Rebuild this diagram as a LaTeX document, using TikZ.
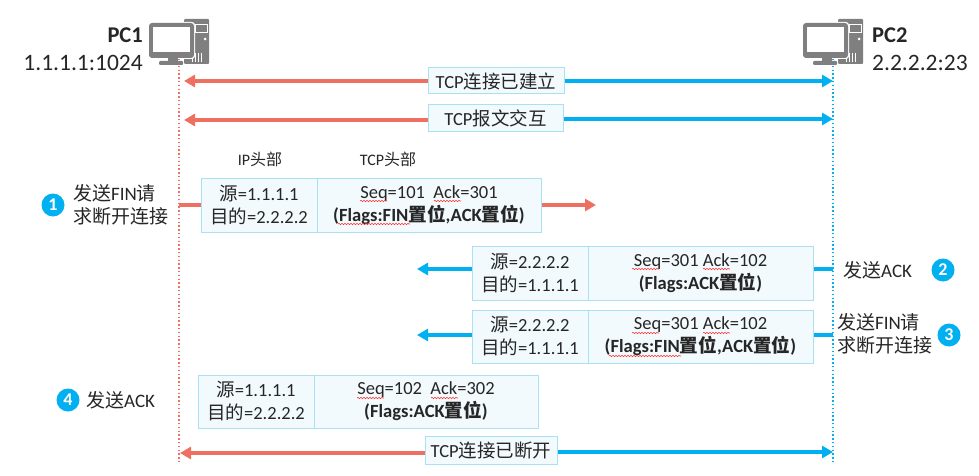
\documentclass[tikz,border=0pt]{standalone}
\usepackage{fontspec}
\setmainfont{Carlito}
\newfontfamily\cjk{Noto Sans CJK SC}
\usetikzlibrary{arrows.meta,decorations.pathmorphing}
\definecolor{redline}{HTML}{EE7060}
\definecolor{blueline}{HTML}{00B0F0}
\definecolor{boxfill}{HTML}{F2FAFD}
\definecolor{boxline}{HTML}{A8E0F4}
\definecolor{pcgray}{HTML}{7F7F7F}
\newcommand{\zh}[1]{{\cjk #1}}
\newcommand{\flagline}[1]{{\fontsize{18.6}{22}\selectfont\bfseries #1}}
\tikzset{
  every node/.style = {text = black!85, inner sep = 0, font = \fontsize{18.5}{23}\selectfont, align = center},
  databox/.style = {draw = boxline, fill = boxfill, line width = 1},
  tagbox/.style = {databox, minimum height = 26},
  steptext/.style = {anchor = west, align = left, font = \fontsize{19}{23}\selectfont},
  redarrow/.style = {redline, line width = 3.2, -{Triangle[length = 11, width = 12]}},
  bluearrow/.style = {blueline, line width = 3.2, -{Triangle[length = 11, width = 12]}},
  redstub/.style = {redline, line width = 3.2},
  bluestub/.style = {blueline, line width = 3.2},
  lifeline/.style = {line width = 1.4, dash pattern = on 1.4 off 2.4},
  squiggle/.style = {red!80, line width = .6, decorate, decoration = {snake, amplitude = .7, segment length = 3}},
  stepdot/.style = {circle, fill = blueline, minimum size = 23, text = white, font = \fontsize{18}{18}\selectfont\bfseries},
  pics/pcicon/.style = {code = {
    \fill[pcgray, rounded corners = 1] (35,-5) rectangle (60,40);
    \draw[white, line width = 1] (46,1) rectangle (58,9);
    \fill[white] (56,15) circle (1.5);
    \foreach \i in {43,46,49,52} {\fill[white] (\i,29) rectangle (\i+1,38);}
    \fill[white, rounded corners = 3] (-1,-2) rectangle (46,35);
    \fill[pcgray, rounded corners = 3] (0,-1) rectangle (45,34);
    \fill[white] (4,3) rectangle (41,28);
    \fill[pcgray] (19,34) rectangle (29,38);
    \fill[pcgray, rounded corners = 1] (10,37) rectangle (34,41);
  }}
}
\begin{document}
\begin{tikzpicture}[x = 1pt, y = -1pt]
\useasboundingbox (0,0) rectangle (979,476);
% lifelines
\coordinate (pc1top) at (179,24);
\coordinate (pc1end) at (179,463);
\coordinate (pc2top) at (833,24);
\coordinate (pc2end) at (833,463);
\draw[lifeline, redline] (pc1top) -- (pc1end);
\draw[lifeline, blueline] (pc2top) -- (pc2end);
\pic at (149,24) {pcicon};
\pic at (803,24) {pcicon};
\node[anchor = east, font = \fontsize{22.5}{24}\selectfont\bfseries] (pc1name) at (143,35) {PC1};
\node[anchor = east, font = \fontsize{23.5}{24}\selectfont] (pc1addr) at (143,63) {1.1.1.1:1024};
\node[anchor = west, font = \fontsize{22.5}{24}\selectfont\bfseries] (pc2name) at (872,35) {PC2};
\node[anchor = west, font = \fontsize{23.5}{24}\selectfont] (pc2addr) at (872,63) {2.2.2.2:23};
% whole connection arrows
\coordinate (upl) at (184,81);
\coordinate (upr) at (833,81);
\coordinate (dtl) at (184,120);
\coordinate (dtr) at (833,119);
\coordinate (dnl) at (180,453);
\coordinate (dnr) at (833,452);
\node[tagbox, minimum width = 136] (up) at (496,81) {TCP\zh{连接已建立}};
\node[tagbox, minimum width = 135] (dt) at (495.5,118) {TCP\zh{报文交互}};
\node[tagbox, minimum width = 132, minimum height = 28] (dn) at (491,450) {TCP\zh{连接已断开}};
\draw[redarrow] (up.west |- upl) -- (upl);
\draw[bluearrow] (up.east |- upr) -- (upr);
\draw[redarrow] (dt.west |- dtl) -- (dtl);
\draw[bluearrow] (dt.east |- dtr) -- (dtr);
\draw[redarrow] (dn.west |- dnl) -- (dnl);
\draw[bluearrow] (dn.east |- dnr) -- (dnr);
% header captions
\node[font = \fontsize{16}{18}\selectfont] (iphead) at (260,159) {IP\zh{头部}};
\node[font = \fontsize{16}{18}\selectfont] (tcphead) at (388,159) {TCP\zh{头部}};
% message 1
\node[databox, minimum width = 116, minimum height = 54] (ipa) at (259,205) {\zh{源}=1.1.1.1\\\zh{目的}=2.2.2.2};
\node[databox, minimum width = 224, minimum height = 54] (tcpa) at (429,205) {Seq=101\ \ Ack=301\\\flagline{(Flags:FIN\zh{置位},ACK\zh{置位})}};
\coordinate (a0) at (179,205);
\coordinate (a1) at (596,205);
\draw[redstub] (a0) -- (ipa.west);
\draw[redarrow] (tcpa.east) -- (a1);
\draw[squiggle] (360,201) -- (387,201);
\draw[squiggle] (434,201) -- (461,201);
\draw[squiggle] (338,224) -- (410,224);
% message 2
\node[databox, minimum width = 116, minimum height = 54] (ipb) at (530,273) {\zh{源}=2.2.2.2\\\zh{目的}=1.1.1.1};
\node[databox, minimum width = 225, minimum height = 54] (tcpb) at (700.5,273) {Seq=301 Ack=102\\\flagline{(Flags:ACK\zh{置位})}};
\coordinate (b0) at (833,269);
\coordinate (b1) at (417,269);
\draw[bluestub] (b0) -- (tcpb.east |- b0);
\draw[bluearrow] (ipb.west |- b0) -- (b1);
\draw[squiggle] (632,269) -- (659,269);
\draw[squiggle] (703,269) -- (730,269);
% message 3
\node[databox, minimum width = 116, minimum height = 53] (ipc) at (530,336.5) {\zh{源}=2.2.2.2\\\zh{目的}=1.1.1.1};
\node[databox, minimum width = 225, minimum height = 53] (tcpc) at (700.5,336.5) {Seq=301 Ack=102\\\flagline{(Flags:FIN\zh{置位},ACK\zh{置位})}};
\coordinate (c0) at (833,335);
\coordinate (c1) at (417,335);
\draw[bluestub] (c0) -- (tcpc.east |- c0);
\draw[bluearrow] (ipc.west |- c0) -- (c1);
\draw[squiggle] (632,333) -- (659,333);
\draw[squiggle] (703,333) -- (730,333);
\draw[squiggle] (609,356) -- (681,356);
% message 4
\node[databox, minimum width = 116, minimum height = 53] (ipd) at (256,401.5) {\zh{源}=1.1.1.1\\\zh{目的}=2.2.2.2};
\node[databox, minimum width = 224, minimum height = 53] (tcpd) at (426,401.5) {Seq=102\ \ Ack=302\\\flagline{(Flags:ACK\zh{置位})}};
\draw[squiggle] (357,398) -- (384,398);
\draw[squiggle] (431,398) -- (458,398);
% steps
\node[stepdot] (one) at (53,205) {1};
\node[steptext] (onetext) at (73,205) {\zh{发送}FIN\zh{请}\\\zh{求断开连接}};
\node[stepdot] (two) at (943,270) {2};
\node[steptext] (twotext) at (843,270) {\zh{发送}ACK};
\node[stepdot] (three) at (949,335) {3};
\node[steptext] (threetext) at (837,334) {\zh{发送}FIN\zh{请}\\\zh{求断开连接}};
\node[stepdot] (four) at (68,400) {4};
\node[steptext] (fourtext) at (86,400) {\zh{发送}ACK};
\end{tikzpicture}
\end{document}
